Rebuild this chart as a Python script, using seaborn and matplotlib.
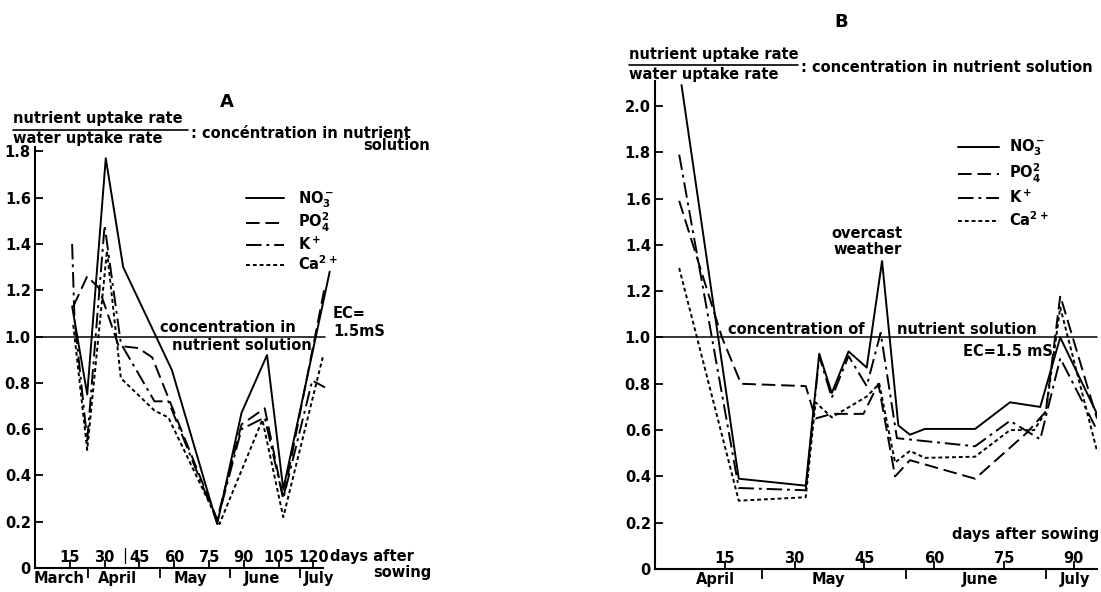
import numpy as np
import pandas as pd
import matplotlib.pyplot as plt
import seaborn as sns
from matplotlib.lines import Line2D

# Style
sns.set_style('ticks')
plt.rcParams['font.family'] = ['DejaVu Sans']
plt.rcParams['font.weight'] = 'bold'
plt.rcParams['mathtext.default'] = 'bf'
for key in ['text.color', 'axes.labelcolor', 'xtick.color', 'ytick.color', 'axes.edgecolor']:
    plt.rcParams[key] = 'black'

# ---------------- data : panel A (days after sowing) ----------------
a_no3_days = [16, 22.5, 30.5, 38, 59, 78.5, 89, 100, 107, 127]
a_no3_vals = [1.13, 0.75, 1.77, 1.30, 0.855, 0.19, 0.67, 0.92, 0.34, 1.28]
a_po4_days = [16.5, 22.5, 27.5, 36, 44.5, 50.5, 78.5, 89, 99, 107, 125]
a_po4_vals = [1.13, 1.26, 1.21, 0.96, 0.95, 0.91, 0.21, 0.62, 0.69, 0.30, 1.22]
a_k_days = [16, 17, 22.5, 30, 37, 51.5, 57.5, 78.5, 89, 99, 107, 119.5, 125]
a_k_vals = [1.40, 1.08, 0.55, 1.48, 0.97, 0.72, 0.72, 0.20, 0.60, 0.65, 0.30, 0.81, 0.78]
a_ca_days = [16.5, 22.5, 31, 37, 51.5, 57.5, 79.5, 98, 107, 124]
a_ca_vals = [1.05, 0.51, 1.37, 0.82, 0.68, 0.65, 0.19, 0.64, 0.22, 0.91]

# ---------------- data : panel B ----------------
b_no3_days = [5.7, 18, 32.4, 35.3, 38, 41.6, 45.5, 48.8, 52.3, 54.8, 58, 68.8, 76.3, 82.8, 87.1, 95]
b_no3_vals = [2.09, 0.39, 0.36, 0.93, 0.76, 0.94, 0.87, 1.33, 0.62, 0.58, 0.605, 0.605, 0.72, 0.70, 1.00, 0.67]
b_po4_days = [5.2, 14.4, 18.5, 32.4, 34.5, 38, 44.8, 48, 51.6, 54.8, 68.8, 80, 84, 87.1, 95]
b_po4_vals = [1.59, 1.00, 0.80, 0.79, 0.65, 0.67, 0.67, 0.80, 0.40, 0.47, 0.39, 0.59, 0.68, 1.18, 0.65]
b_k_days = [5.2, 18, 32.4, 35.3, 38, 41.6, 45.5, 48.5, 52, 68.8, 76.3, 82.8, 87.1, 95]
b_k_vals = [1.79, 0.35, 0.34, 0.92, 0.74, 0.92, 0.79, 1.02, 0.565, 0.53, 0.64, 0.56, 0.91, 0.60]
b_ca_days = [5.2, 18, 32.4, 34.5, 38, 45.5, 48.2, 51.6, 54.8, 58, 68.8, 76.3, 81.5, 84, 87.1, 95]
b_ca_vals = [1.30, 0.295, 0.31, 0.72, 0.655, 0.745, 0.80, 0.46, 0.51, 0.48, 0.485, 0.60, 0.60, 0.68, 1.13, 0.51]

ion_labels = [r'NO$_3^-$', r'PO$_4^{2}$', r'K$^+$', r'Ca$^{2+}$']
ion_styles = ['-', (0, (7, 3)), (0, (8, 2.5, 1.5, 2.5)), (0, (2, 1.5))]

a_xticks = [15, 30, 45, 60, 75, 90, 105, 120]
b_xticks = [15, 30, 45, 60, 75, 90]
a_yticks = [0, 0.2, 0.4, 0.6, 0.8, 1.0, 1.2, 1.4, 1.6, 1.8]
b_yticks = [0, 0.2, 0.4, 0.6, 0.8, 1.0, 1.2, 1.4, 1.6, 1.8, 2.0]
month_bounds = [23, 54, 84, 114]
a_months = ['March', 'April', 'May', 'June', 'July']
a_month_pos = [10.3, 35.6, 66.8, 98, 122.4]
b_months = ['April', 'May', 'June', 'July']
b_month_pos = [12.9, 37.2, 69.9, 90.3]

W, H = 1101, 592
fig = plt.figure(figsize=(W / 100, H / 100), dpi=100)
fs = 10.5


def fx(px):
    return px / W


def fy(py):
    return 1 - py / H


axA = fig.add_axes([fx(35), fy(568), (332 - 35) / W, (568 - 146.7) / H])
axB = fig.add_axes([fx(655), fy(569), (1097 - 655) / W, (569 - 80.5) / H])

series_a = [(a_no3_days, a_no3_vals), (a_po4_days, a_po4_vals), (a_k_days, a_k_vals), (a_ca_days, a_ca_vals)]
series_b = [(b_no3_days, b_no3_vals), (b_po4_days, b_po4_vals), (b_k_days, b_k_vals), (b_ca_days, b_ca_vals)]

for ax, series in [(axA, series_a), (axB, series_b)]:
    for (d, v), lab, ls in zip(series, ion_labels, ion_styles):
        sns.lineplot(x=d, y=v, ax=ax, color='black', lw=1.4, linestyle=ls,
                     label=lab, estimator=None, sort=False)


# axes setup
def setup(ax, xlim, ylim, xticks, yticks, bounds, months, mpos, xend):
    ax.set_xlim(*xlim)
    ax.set_ylim(*ylim)
    sns.despine(ax=ax)
    ax.spines['bottom'].set_bounds(0, xend)
    ax.spines['left'].set_linewidth(1.5)
    ax.spines['bottom'].set_linewidth(1.5)
    ax.set_xticks(xticks)
    ax.set_xticks([b for b in bounds if b < xend], minor=True)
    ax.tick_params(axis='x', which='major', direction='in', length=6, width=1.3, pad=-13, labelsize=fs)
    ax.tick_params(axis='x', which='minor', direction='out', length=7, width=1.3)
    ax.set_yticks(yticks)
    ax.set_yticklabels(['0' if t == 0 else f'{t:.1f}' for t in yticks])
    ax.tick_params(axis='y', direction='in', length=6, width=1.3, pad=3, labelsize=fs)
    ax.set_xlabel('')
    ax.set_ylabel('')
    for name, p in zip(months, mpos):
        ax.annotate(name, xy=(p, 0), xycoords=('data', 'axes fraction'), xytext=(0, -2),
                    textcoords='offset points', ha='center', va='top', fontsize=fs)


setup(axA, (0, 128), (0, 1.82), a_xticks, a_yticks, month_bounds, a_months, a_month_pos, 124)
setup(axB, (0, 95), (0, 2.11), b_xticks, b_yticks, month_bounds, b_months, b_month_pos, 95)

axA.axhline(1.0, xmin=0, xmax=125 / 128, color='black', lw=1.1)
axB.axhline(1.0, color='black', lw=1.1, clip_on=False)

# legends
axA.legend(loc='upper left', bbox_to_anchor=(fx(246), fy(189)), bbox_transform=fig.transFigure,
           frameon=False, handlelength=2.6, handletextpad=1.0, labelspacing=0.1,
           borderpad=0, borderaxespad=0, fontsize=fs)
axB.legend(loc='upper left', bbox_to_anchor=(fx(958), fy(138)), bbox_transform=fig.transFigure,
           frameon=False, handlelength=2.8, handletextpad=0.7, labelspacing=0.25,
           borderpad=0, borderaxespad=0, fontsize=fs)

# titles / fraction labels
fig.text(fx(227), fy(102), 'A', ha='center', va='center', fontsize=13)
fig.text(fx(841), fy(22), 'B', ha='center', va='center', fontsize=13)

fig.text(fx(13), fy(119), 'nutrient uptake rate', ha='left', va='center', fontsize=fs)
fig.text(fx(13), fy(139), 'water uptake rate', ha='left', va='center', fontsize=fs)
fig.add_artist(Line2D([fx(13), fx(188)], [fy(130), fy(130)], color='black', lw=1.2))
fig.text(fx(191), fy(133), ': concéntration in nutrient', ha='left', va='center', fontsize=fs)
fig.text(fx(430), fy(146), 'solution', ha='right', va='center', fontsize=fs)

fig.text(fx(629), fy(55), 'nutrient uptake rate', ha='left', va='center', fontsize=fs)
fig.text(fx(629), fy(75), 'water uptake rate', ha='left', va='center', fontsize=fs)
fig.add_artist(Line2D([fx(629), fx(798)], [fy(65), fy(65)], color='black', lw=1.2))
fig.text(fx(801), fy(68), ': concentration in nutrient solution', ha='left', va='center', fontsize=fs)

# in-plot annotations A
fig.text(fx(160), fy(328), 'concentration in', ha='left', va='center', fontsize=fs)
fig.text(fx(172), fy(345), 'nutrient solution', ha='left', va='center', fontsize=fs)
fig.text(fx(333), fy(313), 'EC=', ha='left', va='center', fontsize=fs)
fig.text(fx(333), fy(332), '1.5mS', ha='left', va='center', fontsize=fs)
fig.text(fx(125), fy(556), '|', ha='center', va='center', fontsize=fs, fontweight='normal')
fig.text(fx(330), fy(557), 'days after', ha='left', va='center', fontsize=fs)
fig.text(fx(432), fy(572), 'sowing', ha='right', va='center', fontsize=fs)

# in-plot annotations B
fig.text(fx(867), fy(233), 'overcast', ha='center', va='center', fontsize=fs)
fig.text(fx(868), fy(249), 'weather', ha='center', va='center', fontsize=fs)
fig.text(fx(728), fy(330), 'concentration of', ha='left', va='center', fontsize=fs)
fig.text(fx(897), fy(330), 'nutrient solution', ha='left', va='center', fontsize=fs)
fig.text(fx(963), fy(352), 'EC=1.5 mS', ha='left', va='center', fontsize=fs)
fig.text(fx(1099), fy(535), 'days after sowing', ha='right', va='center', fontsize=fs)

fig.savefig('out.png', dpi=100)
